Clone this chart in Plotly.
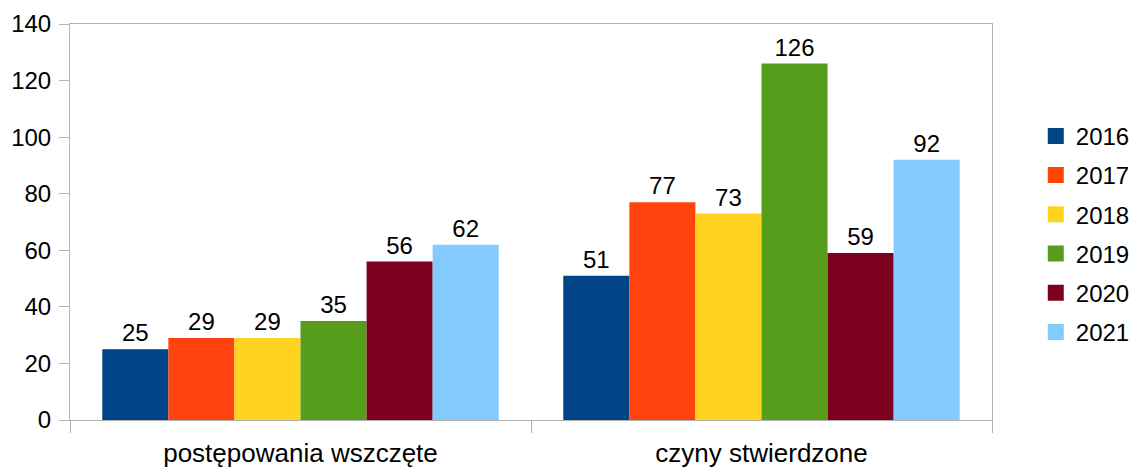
import plotly.graph_objects as go

categories = ["postępowania wszczęte", "czyny stwierdzone"]
years = ["2016", "2017", "2018", "2019", "2020", "2021"]
values = {
    "2016": [25, 51],
    "2017": [29, 77],
    "2018": [29, 73],
    "2019": [35, 126],
    "2020": [56, 59],
    "2021": [62, 92],
}
colors = ["#004586", "#ff420e", "#ffd320", "#579d1c", "#7e0021", "#83caff"]

font = "Liberation Sans, Arial, sans-serif"
fig = go.Figure()
for y, c in zip(years, colors):
    fig.add_trace(go.Bar(
        x=categories, y=values[y], name=y, legendgroup=y, showlegend=False,
        marker=dict(color=c, line=dict(width=0)),
        text=[str(v) for v in values[y]], textposition="outside",
        textfont=dict(size=24, color="black", family=font),
        cliponaxis=False,
    ))
# legend entries with larger square swatches
for y, c in zip(years, colors):
    fig.add_trace(go.Scatter(
        x=[None], y=[None], mode="markers", name=y, legendgroup=y,
        marker=dict(symbol="square", size=16, color=c, line=dict(width=0)),
        showlegend=True,
    ))

axcol = "#b3b3b3"
fig.update_layout(
    width=1132, height=470,
    margin=dict(l=70, r=140, t=24, b=50),
    paper_bgcolor="white", plot_bgcolor="white",
    barmode="group", bargap=0.14, bargroupgap=0,
    font=dict(family=font, size=24, color="black"),
    showlegend=True,
    legend=dict(xref="container", x=0.915, y=0.469, yanchor="middle", xanchor="left",
                font=dict(size=24), tracegroupgap=5, traceorder="grouped",
                itemwidth=30, itemsizing="trace"),
    xaxis=dict(showline=True, linecolor=axcol, linewidth=1, mirror=True,
               ticks="outside", tickson="boundaries", ticklen=12, tickcolor=axcol,
               showgrid=False, tickfont=dict(size=26), automargin=False,
               ticklabelstandoff=10),
    yaxis=dict(range=[0, 140], dtick=20, showline=True, linecolor=axcol, linewidth=1,
               mirror=True, ticks="outside", ticklen=10, tickcolor=axcol,
               showgrid=False, zeroline=False, tickfont=dict(size=24), automargin=False,
               ticklabelstandoff=3),
)
fig.write_html("out.html", config={"displayModeBar": False},
               post_script="document.body.style.margin='0';document.body.style.overflow='hidden';")
